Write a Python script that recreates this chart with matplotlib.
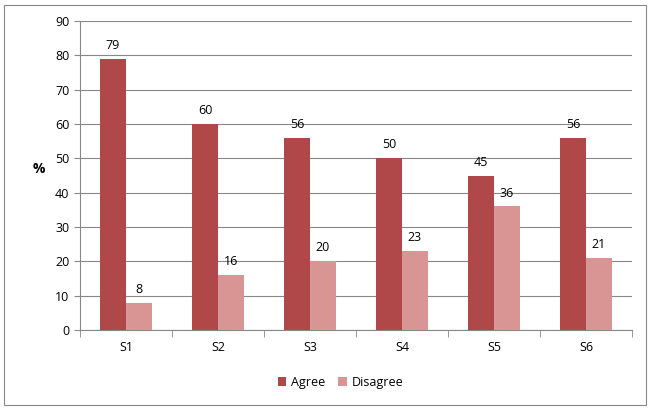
import matplotlib
matplotlib.use("Agg")
import matplotlib.pyplot as plt
import numpy as np
from matplotlib.patches import Rectangle

categories = ["S1", "S2", "S3", "S4", "S5", "S6"]
agree = [79, 60, 56, 50, 45, 56]
disagree = [8, 16, 20, 23, 36, 21]

plt.rcParams['font.family'] = ['Open Sans', 'DejaVu Sans']
fig = plt.figure(figsize=(6.55, 4.13), dpi=100)
fig.patches.append(Rectangle((0.006, 0.02), 0.98, 0.968, transform=fig.transFigure,
                             fill=False, edgecolor='#888888', linewidth=0.8))
ax = fig.add_axes([0.122, 0.201, 0.843, 0.748])
x = np.arange(len(categories))
w = 0.28
c1, c2 = '#B0484A', '#D99594'
b1 = ax.bar(x - w/2, agree, w, color=c1, label='Agree', zorder=3)
b2 = ax.bar(x + w/2, disagree, w, color=c2, label='Disagree', zorder=3)
for bars in (b1, b2):
    for r in bars:
        ax.text(r.get_x() + r.get_width()/2, r.get_height() + 2, f"{r.get_height():.0f}",
                ha='center', va='bottom', fontsize=9)
ax.set_xlim(-0.5, 5.5)
ax.set_ylim(0, 90)
ax.set_yticks(range(0, 91, 10))
ax.yaxis.grid(True, color='#888888', linewidth=0.8, zorder=0)
ax.set_xticks(x)
ax.set_xticklabels(categories, fontsize=9)
ax.set_xticks(np.arange(-0.5, 6, 1), minor=True)
ax.tick_params(axis='x', which='major', length=0, pad=8)
ax.tick_params(axis='x', which='minor', length=5, color='#888888')
ax.tick_params(axis='y', length=4, color='#888888', labelsize=9)
for s in ['top', 'right']:
    ax.spines[s].set_visible(False)
for s in ['left', 'bottom']:
    ax.spines[s].set_color('#888888')
ax.set_ylabel('%', rotation=0, fontsize=10, fontweight='bold', labelpad=12)
fig.legend(loc='center', bbox_to_anchor=(0.52, 0.075), ncol=2, frameon=False,
           fontsize=9, handlelength=0.7, handleheight=0.7, columnspacing=1.0, handletextpad=0.4)
fig.savefig('out.png', dpi=100)
